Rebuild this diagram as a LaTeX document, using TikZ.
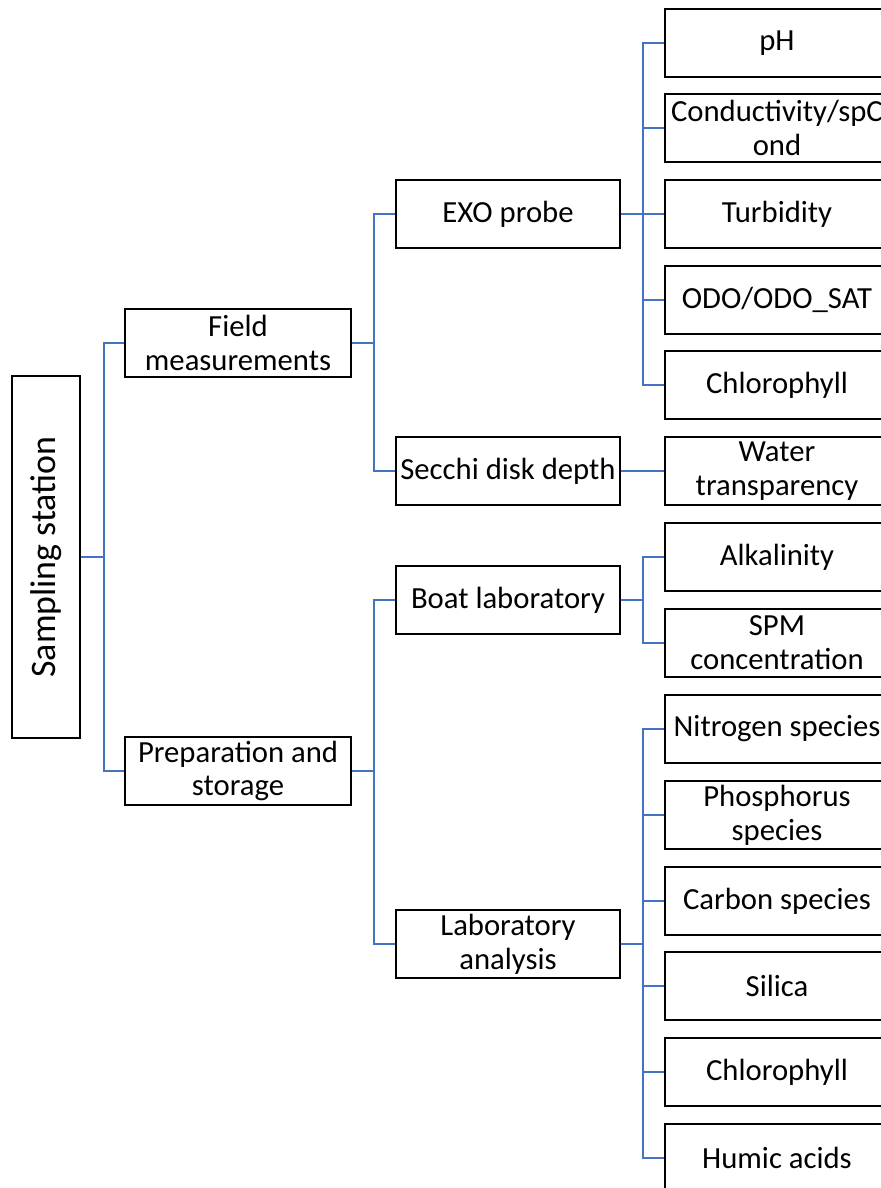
\documentclass[tikz,border=0pt]{standalone}
\usepackage{fontspec}
\setmainfont{Carlito}
\usetikzlibrary{positioning}
\definecolor{conblue}{HTML}{4472C4}
\begin{document}
\begin{tikzpicture}[x=1bp,y=-1bp,
  box/.style={draw=black,line width=2.2bp,minimum width=224bp,minimum height=68bp,
    inner sep=0pt,align=center,font=\fontsize{30.8}{34}\selectfont},
  conn/.style={draw=conblue,line width=1.8bp}]
\useasboundingbox (0,0) rectangle (881,1188);
% root
\node[draw=black,line width=2.2bp,minimum width=68bp,minimum height=362bp,inner sep=0pt,
  font=\fontsize{36}{40}\selectfont] (ss) at (46,557) {\rotatebox{90}{Sampling station}};
% level 1
\node[box,minimum width=226bp] (fm) at (238,343) {Field\\measurements};
\node[box,minimum width=226bp] (ps) at (238,771) {Preparation and\\storage};
% level 2
\node[box] (exo) at (508,214) {EXO probe};
\node[box] (sec) at (508,471) {Secchi disk depth};
\node[box] (boat) at (508,600) {Boat laboratory};
\node[box] (lab) at (508,944) {Laboratory\\analysis};
% level 3
\node[box] (ph) at (777,43) {pH};
\node[box] (cond) at (777,128) {Conductivity/spC\\ond};
\node[box] (turb) at (777,214) {Turbidity};
\node[box] (odo) at (777,300) {ODO/ODO\_SAT};
\node[box] (chl1) at (777,385) {Chlorophyll};
\node[box] (wt) at (777,471) {Water\\transparency};
\node[box] (alk) at (777,557) {Alkalinity};
\node[box] (spm) at (777,643) {SPM\\concentration};
\node[box] (nit) at (777,729) {Nitrogen species};
\node[box] (pho) at (777,815) {Phosphorus\\species};
\node[box] (car) at (777,901) {Carbon species};
\node[box] (sil) at (777,986) {Silica};
\node[box] (chl2) at (777,1072) {Chlorophyll};
\node[box] (hum) at (777,1158) {Humic acids};
% connectors
\foreach \c in {fm,ps} \draw[conn] (ss.east) -- ++(23,0) |- (\c.west);
\foreach \c in {exo,sec} \draw[conn] (fm.east) -- ++(22,0) |- (\c.west);
\foreach \c in {boat,lab} \draw[conn] (ps.east) -- ++(22,0) |- (\c.west);
\foreach \c in {ph,cond,turb,odo,chl1} \draw[conn] (exo.east) -- ++(22,0) |- (\c.west);
\draw[conn] (sec.east) -- (wt.west);
\foreach \c in {alk,spm} \draw[conn] (boat.east) -- ++(22,0) |- (\c.west);
\foreach \c in {nit,pho,car,sil,chl2,hum} \draw[conn] (lab.east) -- ++(22,0) |- (\c.west);
\end{tikzpicture}
\end{document}
